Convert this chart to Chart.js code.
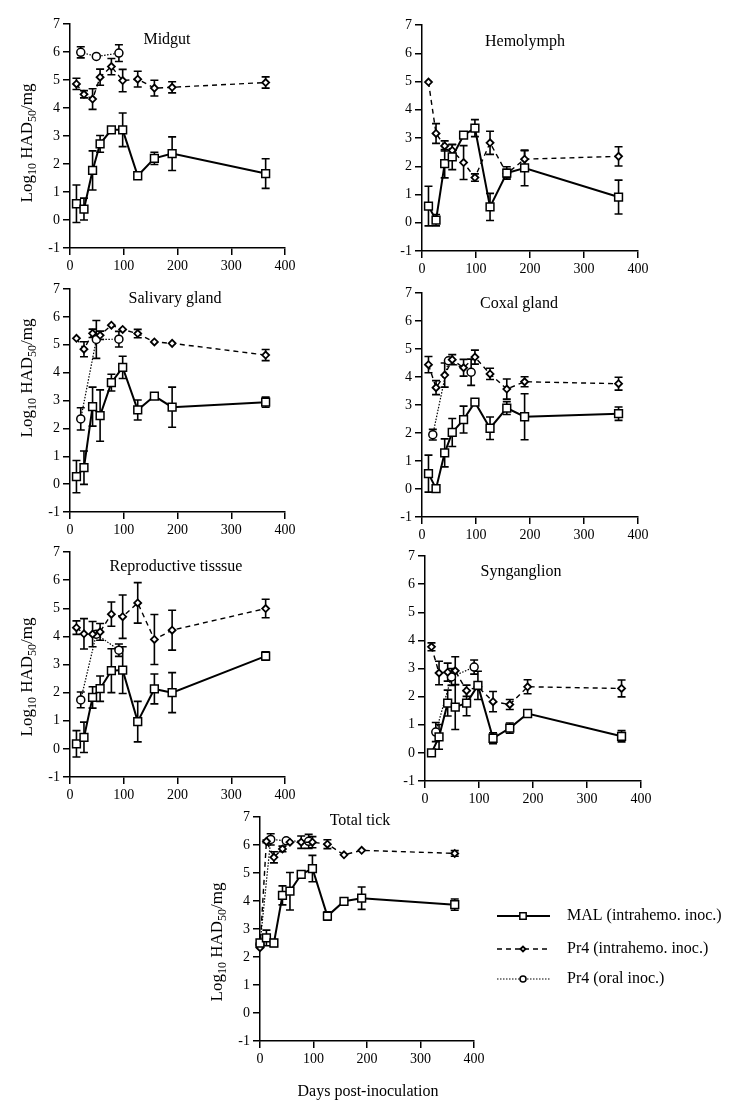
<!DOCTYPE html>
<html>
<head>
<meta charset="utf-8">
<script src="https://cdn.jsdelivr.net/npm/chart.js@4/dist/chart.umd.min.js"></script>
<style>
  body { margin: 0; background: #fff; }
  #page { position: relative; width: 739px; height: 1116px; overflow: hidden; background: #fff; }
  #page canvas { position: absolute; }
</style>
</head>
<body>
<div id="page"></div>
<script>
// sampling days (post-inoculation)
const days = [12, 26, 42, 56, 77, 98, 126, 157, 190, 364];
const oralDays = [20, 49, 91];
const totalDays = [0, 12, 26, 42, 56, 77, 98, 126, 157, 190, 364];
const totalOralDays = [0, 20, 49, 91];
const xTicks = [0, 100, 200, 300, 400];
const yTicks = [-1, 0, 1, 2, 3, 4, 5, 6, 7];

// Midgut
const midgutMal = [0.58, 0.39, 1.77, 2.72, 3.22, 3.22, 1.58, 2.2, 2.37, 1.66];
const midgutMalErr = [0.67, 0.39, 0.7, 0.3, 0.05, 0.6, 0.08, 0.22, 0.6, 0.53];
const midgutPr4 = [4.86, 4.49, 4.32, 5.1, 5.48, 4.98, 5.03, 4.71, 4.74, 4.91];
const midgutPr4Err = [0.2, 0.13, 0.37, 0.29, 0.29, 0.4, 0.28, 0.28, 0.2, 0.2];
const midgutOral = [5.99, 5.84, 5.96];
const midgutOralErr = [0.2, 0, 0.3];

// Hemolymph
const hemoMal = [0.59, 0.09, 2.09, 2.33, 3.1, 3.35, 0.56, 1.76, 1.94, 0.91];
const hemoMalErr = [0.7, 0.2, 0.5, 0.45, 0.05, 0.3, 0.48, 0.22, 0.63, 0.6];
const hemoPr4 = [4.98, 3.16, 2.72, 2.56, 2.13, 1.6, 2.83, 1.74, 2.25, 2.35];
const hemoPr4Err = [0, 0.35, 0.18, 0.2, 0.6, 0.13, 0.41, 0.15, 0.3, 0.34];

// Salivary gland
const salivMal = [0.27, 0.59, 2.78, 2.46, 3.64, 4.19, 2.66, 3.16, 2.76, 2.94];
const salivMalErr = [0.58, 0.6, 0.7, 0.92, 0.3, 0.4, 0.36, 0.05, 0.72, 0.18];
const salivPr4 = [5.23, 4.84, 5.41, 5.34, 5.7, 5.55, 5.4, 5.1, 5.05, 4.63];
const salivPr4Err = [0, 0.27, 0.15, 0.15, 0, 0, 0.15, 0, 0, 0.2];
const salivOral = [2.34, 5.19, 5.2];
const salivOralErr = [0.4, 0.68, 0.28];

// Coxal gland
const coxalMal = [0.55, 0.01, 1.29, 2.02, 2.48, 3.1, 2.17, 2.89, 2.58, 2.69];
const coxalMalErr = [0.66, 0, 0.5, 0.5, 0.48, 0.06, 0.4, 0.23, 0.82, 0.24];
const coxalPr4 = [4.44, 3.62, 4.07, 4.62, 4.33, 4.71, 4.11, 3.57, 3.83, 3.76];
const coxalPr4Err = [0.29, 0.25, 0.43, 0.18, 0.3, 0.25, 0.2, 0.36, 0.18, 0.23];
const coxalOral = [1.94, 4.58, 4.17];
const coxalOralErr = [0.19, 0, 0.47];

// Reproductive tissue
const reproMal = [0.18, 0.41, 1.83, 2.14, 2.78, 2.8, 0.97, 2.13, 2.0, 3.3];
const reproMalErr = [0.47, 0.54, 0.38, 0.45, 0.78, 0.83, 0.72, 0.53, 0.71, 0.15];
const reproPr4 = [4.31, 4.09, 4.08, 4.16, 4.79, 4.7, 5.19, 3.89, 4.22, 4.99];
const reproPr4Err = [0.24, 0.54, 0.45, 0.3, 0.43, 0.77, 0.72, 0.89, 0.71, 0.33];
const reproOral = [1.74, 4.08, 3.51];
const reproOralErr = [0.28, 0, 0.22];

// Synganglion
const syngMal = [0, 0.57, 1.77, 1.63, 1.77, 2.4, 0.52, 0.88, 1.4, 0.59];
const syngMalErr = [0, 0.44, 0.46, 0.8, 0.45, 0.5, 0.19, 0.18, 0.05, 0.2];
const syngPr4 = [3.77, 2.84, 2.87, 2.92, 2.21, 2.35, 1.82, 1.72, 2.35, 2.29];
const syngPr4Err = [0.14, 0.42, 0.32, 0.5, 0.2, 0.05, 0.36, 0.18, 0.25, 0.3];
const syngOral = [0.74, 2.7, 3.05];
const syngOralErr = [0.34, 0.3, 0.25];

// Total tick
const totalMal = [2.5, 2.68, 2.5, 4.2, 4.35, 4.95, 5.16, 3.46, 3.99, 4.1, 3.87];
const totalMalErr = [0.08, 0.28, 0.12, 0.34, 0.67, 0, 0.47, 0.15, 0, 0.4, 0.2];
const totalPr4 = [2.33, 6.13, 5.56, 5.86, 6.1, 6.1, 6.1, 6.03, 5.65, 5.81, 5.7];
const totalPr4Err = [0, 0.05, 0.2, 0.1, 0, 0.22, 0.2, 0.16, 0, 0, 0.1];
const totalOral = [2.45, 6.2, 6.15, 6.13];
const totalOralErr = [0, 0.2, 0, 0.25];

const seriesNames = ['MAL (intrahemo. inoc.)', 'Pr4 (intrahemo. inoc.)', 'Pr4 (oral inoc.)'];

const FONT = '"Liberation Serif", "Times New Roman", serif';

function pts(xs, ys) {
    return xs.map((x, i) => ({ x: x, y: ys[i] }));
}

// line + marker styles for the 3 series
const styles = [
    { borderWidth: 2, borderDash: [], pointStyle: 'rect', pointRadius: 5.5, pointBorderWidth: 1.5 },
    { borderWidth: 1.4, borderDash: [5, 4], pointStyle: 'rectRot', pointRadius: 3.5, pointBorderWidth: 1.8 },
    { borderWidth: 1.2, borderDash: [1.5, 1.5], pointStyle: 'circle', pointRadius: 4, pointBorderWidth: 1.5 }
];

function makeDataset(k, xs, ys, errs) {
    const s = styles[k];
    return {
        label: seriesNames[k],
        data: pts(xs, ys),
        errors: errs,
        borderColor: '#000',
        borderWidth: s.borderWidth,
        borderDash: s.borderDash,
        pointStyle: s.pointStyle,
        pointRadius: s.pointRadius,
        pointBorderWidth: s.pointBorderWidth,
        pointBorderColor: '#000',
        pointBackgroundColor: '#fff',
        tension: 0,
        fill: false,
        clip: false
    };
}

// error bars under the markers
const errorBars = {
    id: 'errorBars',
    beforeDatasetsDraw(chart) {
        const ctx = chart.ctx;
        const yScale = chart.scales.y;
        ctx.save();
        ctx.strokeStyle = '#000';
        ctx.lineWidth = 1.6;
        ctx.setLineDash([]);
        chart.data.datasets.forEach((ds, i) => {
            if (!ds.errors) return;
            const meta = chart.getDatasetMeta(i);
            meta.data.forEach((pt, j) => {
                const e = ds.errors[j];
                if (!e) return;
                const v = ds.data[j].y;
                const top = yScale.getPixelForValue(v + e);
                const bot = yScale.getPixelForValue(v - e);
                ctx.beginPath();
                ctx.moveTo(pt.x, top); ctx.lineTo(pt.x, bot);
                ctx.moveTo(pt.x - 4, top); ctx.lineTo(pt.x + 4, top);
                ctx.moveTo(pt.x - 4, bot); ctx.lineTo(pt.x + 4, bot);
                ctx.stroke();
            });
        });
        ctx.restore();
    }
};

function drawYLabel(ctx, cx, cy) {
    const parts = [['Log', 17, 0], ['10', 12, 4], [' HAD', 17, 0], ['50', 12, 4], ['/mg', 17, 0]];
    ctx.save();
    ctx.translate(cx, cy);
    ctx.rotate(-Math.PI / 2);
    ctx.fillStyle = '#000';
    ctx.textAlign = 'left';
    ctx.textBaseline = 'alphabetic';
    let total = 0;
    parts.forEach(p => { ctx.font = p[1] + 'px ' + FONT; total += ctx.measureText(p[0]).width; });
    let x = -total / 2;
    parts.forEach(p => {
        ctx.font = p[1] + 'px ' + FONT;
        ctx.fillText(p[0], x, 6 + p[2]);
        x += ctx.measureText(p[0]).width;
    });
    ctx.restore();
}

// panel title, y label, legend and x title (page coordinates)
const panelText = {
    id: 'panelText',
    afterDraw(chart, args, opts) {
        const ctx = chart.ctx;
        const ox = opts.left, oy = opts.top;
        ctx.save();
        ctx.fillStyle = '#000';
        ctx.font = '16px ' + FONT;
        ctx.textAlign = 'center';
        ctx.textBaseline = 'middle';
        ctx.fillText(opts.title, opts.titlePos[0] - ox, opts.titlePos[1] - oy);
        if (opts.xTitle) {
            ctx.fillText(opts.xTitle, 368 - ox, 1092 - oy);
        }
        ctx.restore();
        if (opts.yLabel) drawYLabel(ctx, opts.yLabel[0] - ox, opts.yLabel[1] - oy);
        if (opts.legend) {
            const rows = [916, 949, 979];
            rows.forEach((ry, k) => {
                const s = styles[k];
                const y = ry - oy;
                ctx.save();
                ctx.strokeStyle = '#000';
                ctx.lineWidth = s.borderWidth;
                ctx.setLineDash(s.borderDash);
                ctx.beginPath();
                ctx.moveTo(497 - ox, y);
                ctx.lineTo(550 - ox, y);
                ctx.stroke();
                ctx.setLineDash([]);
                ctx.fillStyle = '#fff';
                ctx.lineWidth = s.pointBorderWidth;
                Chart.helpers.drawPoint(ctx, { pointStyle: s.pointStyle, radius: s.pointRadius - 1, rotation: 0, borderWidth: s.pointBorderWidth }, 523 - ox, y);
                ctx.fillStyle = '#000';
                ctx.font = '16px ' + FONT;
                ctx.textAlign = 'left';
                ctx.textBaseline = 'middle';
                ctx.fillText(seriesNames[k], 567 - ox, y);
                ctx.restore();
            });
        }
    }
};

function axis(min, max, step, isX) {
    return {
        type: 'linear',
        min: min,
        max: max,
        afterBuildTicks: s => { s.ticks = (isX ? xTicks : yTicks).map(v => ({ value: v })); },
        ticks: { stepSize: step, color: '#000', font: { family: FONT, size: 14 }, padding: 3, maxRotation: 0 },
        grid: { display: true, drawOnChartArea: false, drawTicks: true, tickLength: 7, color: '#000', lineWidth: 1.5 },
        border: { display: true, color: '#000', width: 1.5 },
        afterFit: s => { if (isX) s.height = 35; else s.width = 60; }
    };
}

function makePanel(p) {
    const left = p.L - 60, top = p.T - 15;
    const width = p.wide ? 739 - left : p.R - p.L + 90;
    const height = p.wide ? 1116 - top : p.B - p.T + 50;
    const canvas = document.createElement('canvas');
    canvas.width = width;
    canvas.height = height;
    canvas.style.left = left + 'px';
    canvas.style.top = top + 'px';
    document.getElementById('page').appendChild(canvas);

    new Chart(canvas.getContext('2d'), {
        type: 'line',
        data: { datasets: p.datasets },
        options: {
            responsive: false,
            animation: false,
            devicePixelRatio: 1,
            layout: { padding: { left: 0, top: 15, right: width - 60 - (p.R - p.L), bottom: height - 15 - (p.B - p.T) - 35 } },
            scales: { x: axis(0, 400, 100, true), y: axis(-1, 7, 1, false) },
            plugins: {
                legend: { display: false },
                tooltip: { enabled: false },
                panelText: { left: left, top: top, title: p.title, titlePos: p.titlePos, yLabel: p.yLabel, legend: p.wide, xTitle: p.wide ? 'Days post-inoculation' : null }
            }
        },
        plugins: [errorBars, panelText]
    });
}

makePanel({
    L: 70, R: 285, T: 24, B: 248, title: 'Midgut', titlePos: [167, 40], yLabel: [26, 143],
    datasets: [makeDataset(0, days, midgutMal, midgutMalErr), makeDataset(1, days, midgutPr4, midgutPr4Err), makeDataset(2, oralDays, midgutOral, midgutOralErr)]
});
makePanel({
    L: 422, R: 638, T: 25, B: 251, title: 'Hemolymph', titlePos: [525, 42],
    datasets: [makeDataset(0, days, hemoMal, hemoMalErr), makeDataset(1, days, hemoPr4, hemoPr4Err)]
});
makePanel({
    L: 70, R: 285, T: 289, B: 512, title: 'Salivary gland', titlePos: [175, 299], yLabel: [26, 378],
    datasets: [makeDataset(0, days, salivMal, salivMalErr), makeDataset(1, days, salivPr4, salivPr4Err), makeDataset(2, oralDays, salivOral, salivOralErr)]
});
makePanel({
    L: 422, R: 638, T: 293, B: 517, title: 'Coxal gland', titlePos: [519, 304],
    datasets: [makeDataset(0, days, coxalMal, coxalMalErr), makeDataset(1, days, coxalPr4, coxalPr4Err), makeDataset(2, oralDays, coxalOral, coxalOralErr)]
});
makePanel({
    L: 70, R: 285, T: 552, B: 777, title: 'Reproductive tisssue', titlePos: [176, 567], yLabel: [26, 677],
    datasets: [makeDataset(0, days, reproMal, reproMalErr), makeDataset(1, days, reproPr4, reproPr4Err), makeDataset(2, oralDays, reproOral, reproOralErr)]
});
makePanel({
    L: 425, R: 641, T: 556, B: 781, title: 'Synganglion', titlePos: [521, 572],
    datasets: [makeDataset(0, days, syngMal, syngMalErr), makeDataset(1, days, syngPr4, syngPr4Err), makeDataset(2, oralDays, syngOral, syngOralErr)]
});
makePanel({
    L: 260, R: 474, T: 817, B: 1041, title: 'Total tick', titlePos: [360, 821], yLabel: [216, 942], wide: true,
    datasets: [makeDataset(0, totalDays, totalMal, totalMalErr), makeDataset(1, totalDays, totalPr4, totalPr4Err), makeDataset(2, totalOralDays, totalOral, totalOralErr)]
});
</script>
</body>
</html>
